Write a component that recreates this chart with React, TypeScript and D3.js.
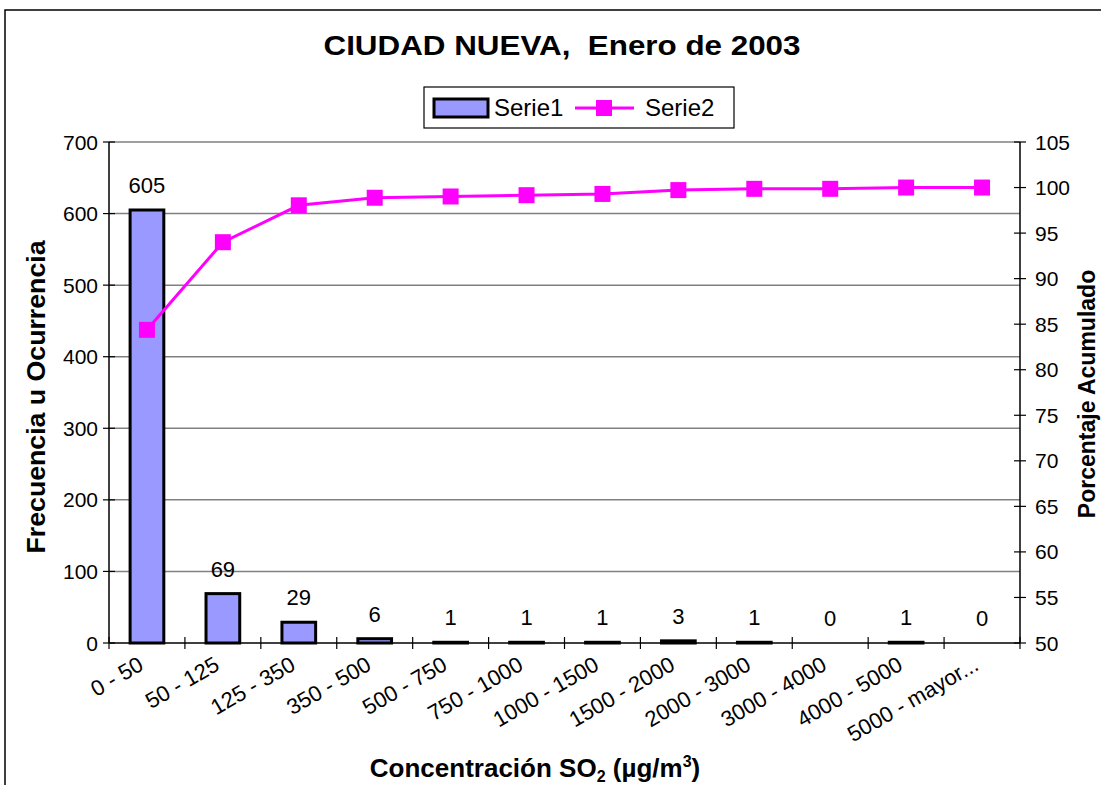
import React from "react";
import * as d3 from "d3";

const categories = ["0 - 50", "50 - 125", "125 - 350", "350 - 500", "500 - 750", "750 - 1000", "1000 - 1500", "1500 - 2000", "2000 - 3000", "3000 - 4000", "4000 - 5000", "5000 - mayor..."];
const serie1 = [605, 69, 29, 6, 1, 1, 1, 3, 1, 0, 1, 0];
const serie2 = [84.38, 94.0, 98.05, 98.88, 99.02, 99.16, 99.3, 99.72, 99.86, 99.86, 100, 100];
const leftTicks = [0, 100, 200, 300, 400, 500, 600, 700];
const rightTicks = [50, 55, 60, 65, 70, 75, 80, 85, 90, 95, 100, 105];

const W = 1101, H = 785;
const L = 109, R = 1020, T = 142, B = 643;
const FONT = "Arial, 'Liberation Sans', sans-serif";

export default function App() {
  const x = d3.scaleBand<string>().domain(categories).range([L, R]).paddingInner(0.556).paddingOuter(0.278);
  const band = d3.scaleBand<string>().domain(categories).range([L, R]);
  const yL = d3.scaleLinear().domain([0, 700]).range([B, T]);
  const yR = d3.scaleLinear().domain([50, 105]).range([B, T]);
  const cx = (i: number) => band(categories[i])! + band.bandwidth() / 2;
  const line = d3.line<number>().x((_, i) => cx(i)).y((d) => yR(d));
  const ms = 16;
  return (
    <svg width={W} height={H} style={{ position: "absolute", left: 0, top: 0 }} fontFamily={FONT}>
      <rect x={0} y={0} width={W} height={H} fill="#fff" />
      <rect x={5} y={10} width={1110} height={800} fill="none" stroke="#000" strokeWidth={1.5} />
      <text x={562} y={55} textAnchor="middle" fontSize={28} fontWeight="bold" textLength={477} lengthAdjust="spacingAndGlyphs" style={{ whiteSpace: "pre" }}>
        {"CIUDAD NUEVA,  Enero de 2003"}
      </text>
      {/* legend */}
      <rect x={424} y={87} width={310} height={41} fill="#fff" stroke="#000" strokeWidth={1.2} />
      <rect x={434} y={99} width={54} height={18} fill="#9999FF" stroke="#000" strokeWidth={3} />
      <text x={494} y={116} fontSize={24}>Serie1</text>
      <line x1={575} x2={634} y1={108} y2={108} stroke="#FF00FF" strokeWidth={3} />
      <rect x={604 - 8} y={108 - 8} width={16} height={16} fill="#FF00FF" />
      <text x={645} y={116} fontSize={24}>Serie2</text>
      {/* grid */}
      {leftTicks.slice(1).map((t) => (
        <line key={t} x1={L} x2={R} y1={yL(t)} y2={yL(t)} stroke="#808080" strokeWidth={1.5} />
      ))}
      {/* bars */}
      {serie1.map((v, i) => (
        <rect key={i} x={x(categories[i])} y={yL(v)} width={x.bandwidth()} height={B - yL(v)} fill="#9999FF" stroke="#000" strokeWidth={3} />
      ))}
      {serie1.map((v, i) => (
        <text key={"l" + i} x={x(categories[i])! + x.bandwidth() / 2} y={yL(v) - 17} textAnchor="middle" fontSize={22}>{v}</text>
      ))}
      {/* axes */}
      <line x1={L} x2={L} y1={T} y2={B} stroke="#000" strokeWidth={1.5} />
      <line x1={R} x2={R} y1={T} y2={B} stroke="#000" strokeWidth={1.5} />
      <line x1={L} x2={R} y1={B} y2={B} stroke="#000" strokeWidth={1.5} />
      {leftTicks.map((t) => (
        <g key={t}>
          <line x1={L - 6} x2={L + 6} y1={yL(t)} y2={yL(t)} stroke="#000" strokeWidth={1.2} />
          <text x={L - 11} y={yL(t) + 7.5} textAnchor="end" fontSize={21}>{t}</text>
        </g>
      ))}
      {rightTicks.map((t) => (
        <g key={t}>
          <line x1={R - 6} x2={R + 6} y1={yR(t)} y2={yR(t)} stroke="#000" strokeWidth={1.2} />
          <text x={R + 15} y={yR(t) + 7.5} textAnchor="start" fontSize={21}>{t}</text>
        </g>
      ))}
      {categories.map((c, i) => (
        <line key={"xt" + i} x1={band(c)!} x2={band(c)!} y1={B - 6} y2={B + 6} stroke="#000" strokeWidth={1.2} />
      ))}
      <line x1={R} x2={R} y1={B - 6} y2={B + 6} stroke="#000" strokeWidth={1.2} />
      {categories.map((c, i) => (
        <text key={"xl" + i} transform={`translate(${cx(i) - 2},${B + 26}) rotate(-30)`} textAnchor="end" fontSize={22}>{c}</text>
      ))}
      {/* line */}
      <path d={line(serie2)!} fill="none" stroke="#FF00FF" strokeWidth={3} />
      {serie2.map((v, i) => (
        <rect key={"m" + i} x={cx(i) - ms / 2} y={yR(v) - ms / 2} width={ms} height={ms} fill="#FF00FF" />
      ))}
      {/* axis titles */}
      <text transform={`translate(45,397) rotate(-90)`} textAnchor="middle" fontSize={25} fontWeight="bold" textLength={313} lengthAdjust="spacingAndGlyphs">Frecuencia u Ocurrencia</text>
      <text transform={`translate(1095,394) rotate(-90)`} textAnchor="middle" fontSize={23} fontWeight="bold">Porcentaje Acumulado</text>
      <text x={535} y={777} textAnchor="middle" fontSize={26} fontWeight="bold">
        Concentración SO<tspan fontSize={16} dy={5}>2</tspan><tspan dy={-5}> (µg/m</tspan><tspan fontSize={16} dy={-10}>3</tspan><tspan dy={10}>)</tspan>
      </text>
    </svg>
  );
}
